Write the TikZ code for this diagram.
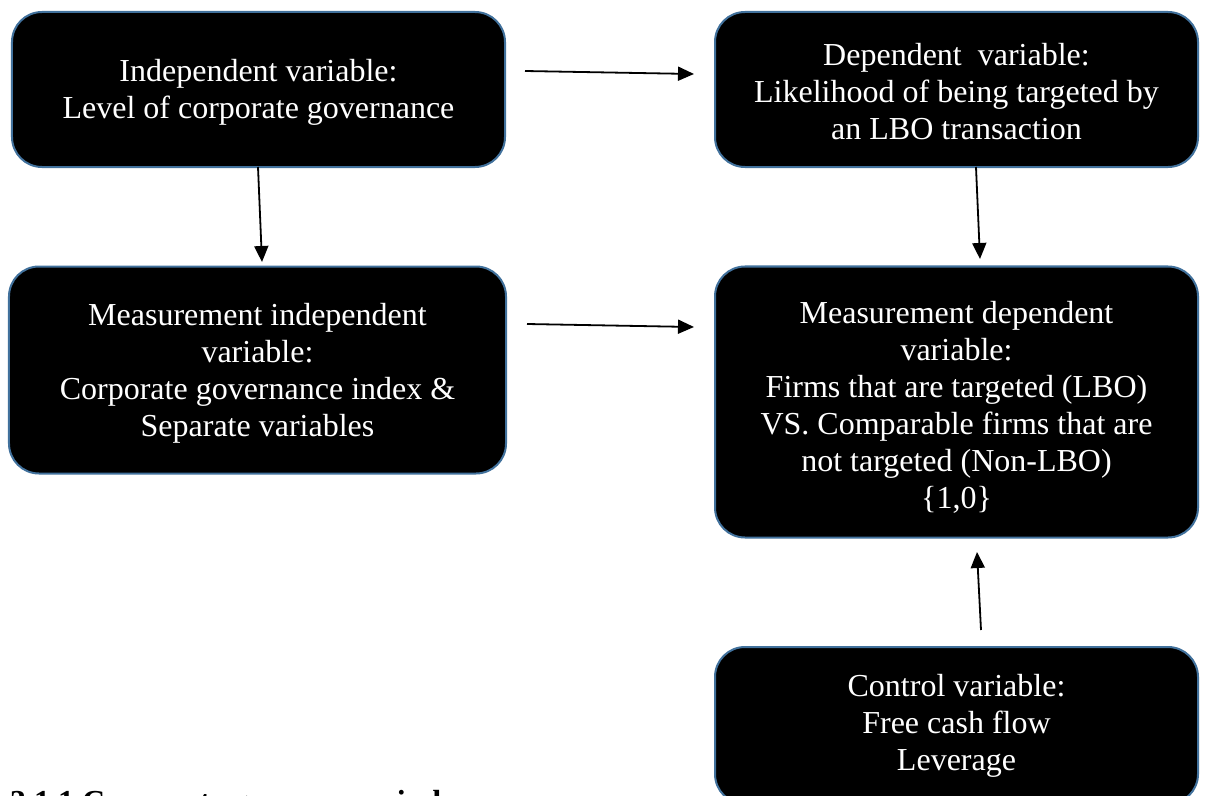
\documentclass[tikz,border=0pt]{standalone}
\usepackage{fontspec}
\setmainfont{Liberation Serif}
\usetikzlibrary{arrows.meta}
\definecolor{boxline}{HTML}{41719C}
\newcommand{\toprl}[1]{\rule{0pt}{#1}}
\tikzset{
  vbox/.style={draw=boxline, line width=2bp, fill=black, rounded corners=30bp,
    text=white, align=center, inner sep=0pt,
    font=\fontsize{32bp}{37bp}\selectfont},
  arr/.style={line width=1.8bp, -{Triangle[length=16bp,width=14bp]}}
}
\begin{document}
\begin{tikzpicture}[x=1bp,y=-1bp]
\useasboundingbox (0,0) rectangle (1208,796);
\clip (0,0) rectangle (1208,796);
\fill[white] (0,0) rectangle (1208,796);
\node[vbox, minimum width=493bp, minimum height=155bp] (A) at (258.5,89.5)
  {\toprl{28bp}Independent variable:\\Level of corporate governance};
\node[vbox, minimum width=483bp, minimum height=155bp] (C) at (956.5,89.5)
  {\toprl{27bp}Dependent~ variable:\\Likelihood of being targeted by\\an LBO transaction};
\node[vbox, minimum width=497bp, minimum height=207bp] (B) at (257.5,370)
  {\toprl{29bp}Measurement independent\\variable:\\Corporate governance index \&\\Separate variables};
\node[vbox, minimum width=483bp, minimum height=271bp] (D) at (956.5,402)
  {\toprl{32bp}Measurement dependent\\variable:\\Firms that are targeted (LBO)\\VS. Comparable firms that are\\not targeted (Non-LBO)\\\{1,0\}};
\node[vbox, minimum width=483bp, minimum height=157bp] (E) at (956.5,725.5)
  {Control variable:\\Free cash flow\\Leverage};
\node[anchor=base west, inner sep=0pt, font=\fontsize{32bp}{37bp}\selectfont\bfseries] (H) at (10,812)
  {3.1.1 Corporate governance index};
% arrow end points
\coordinate (a1) at (258,167);
\coordinate (b1) at (262,262);
\coordinate (c1) at (976,167);
\coordinate (d1) at (980,259);
\coordinate (a2) at (525,71);
\coordinate (c2) at (694,74);
\coordinate (b2) at (527,324);
\coordinate (d2) at (694,327);
\coordinate (e3) at (981,630);
\coordinate (d3) at (977,552);
\draw[arr] (a1) -- (b1);
\draw[arr] (c1) -- (d1);
\draw[arr] (a2) -- (c2);
\draw[arr] (b2) -- (d2);
\draw[arr] (e3) -- (d3);
\end{tikzpicture}
\end{document}
